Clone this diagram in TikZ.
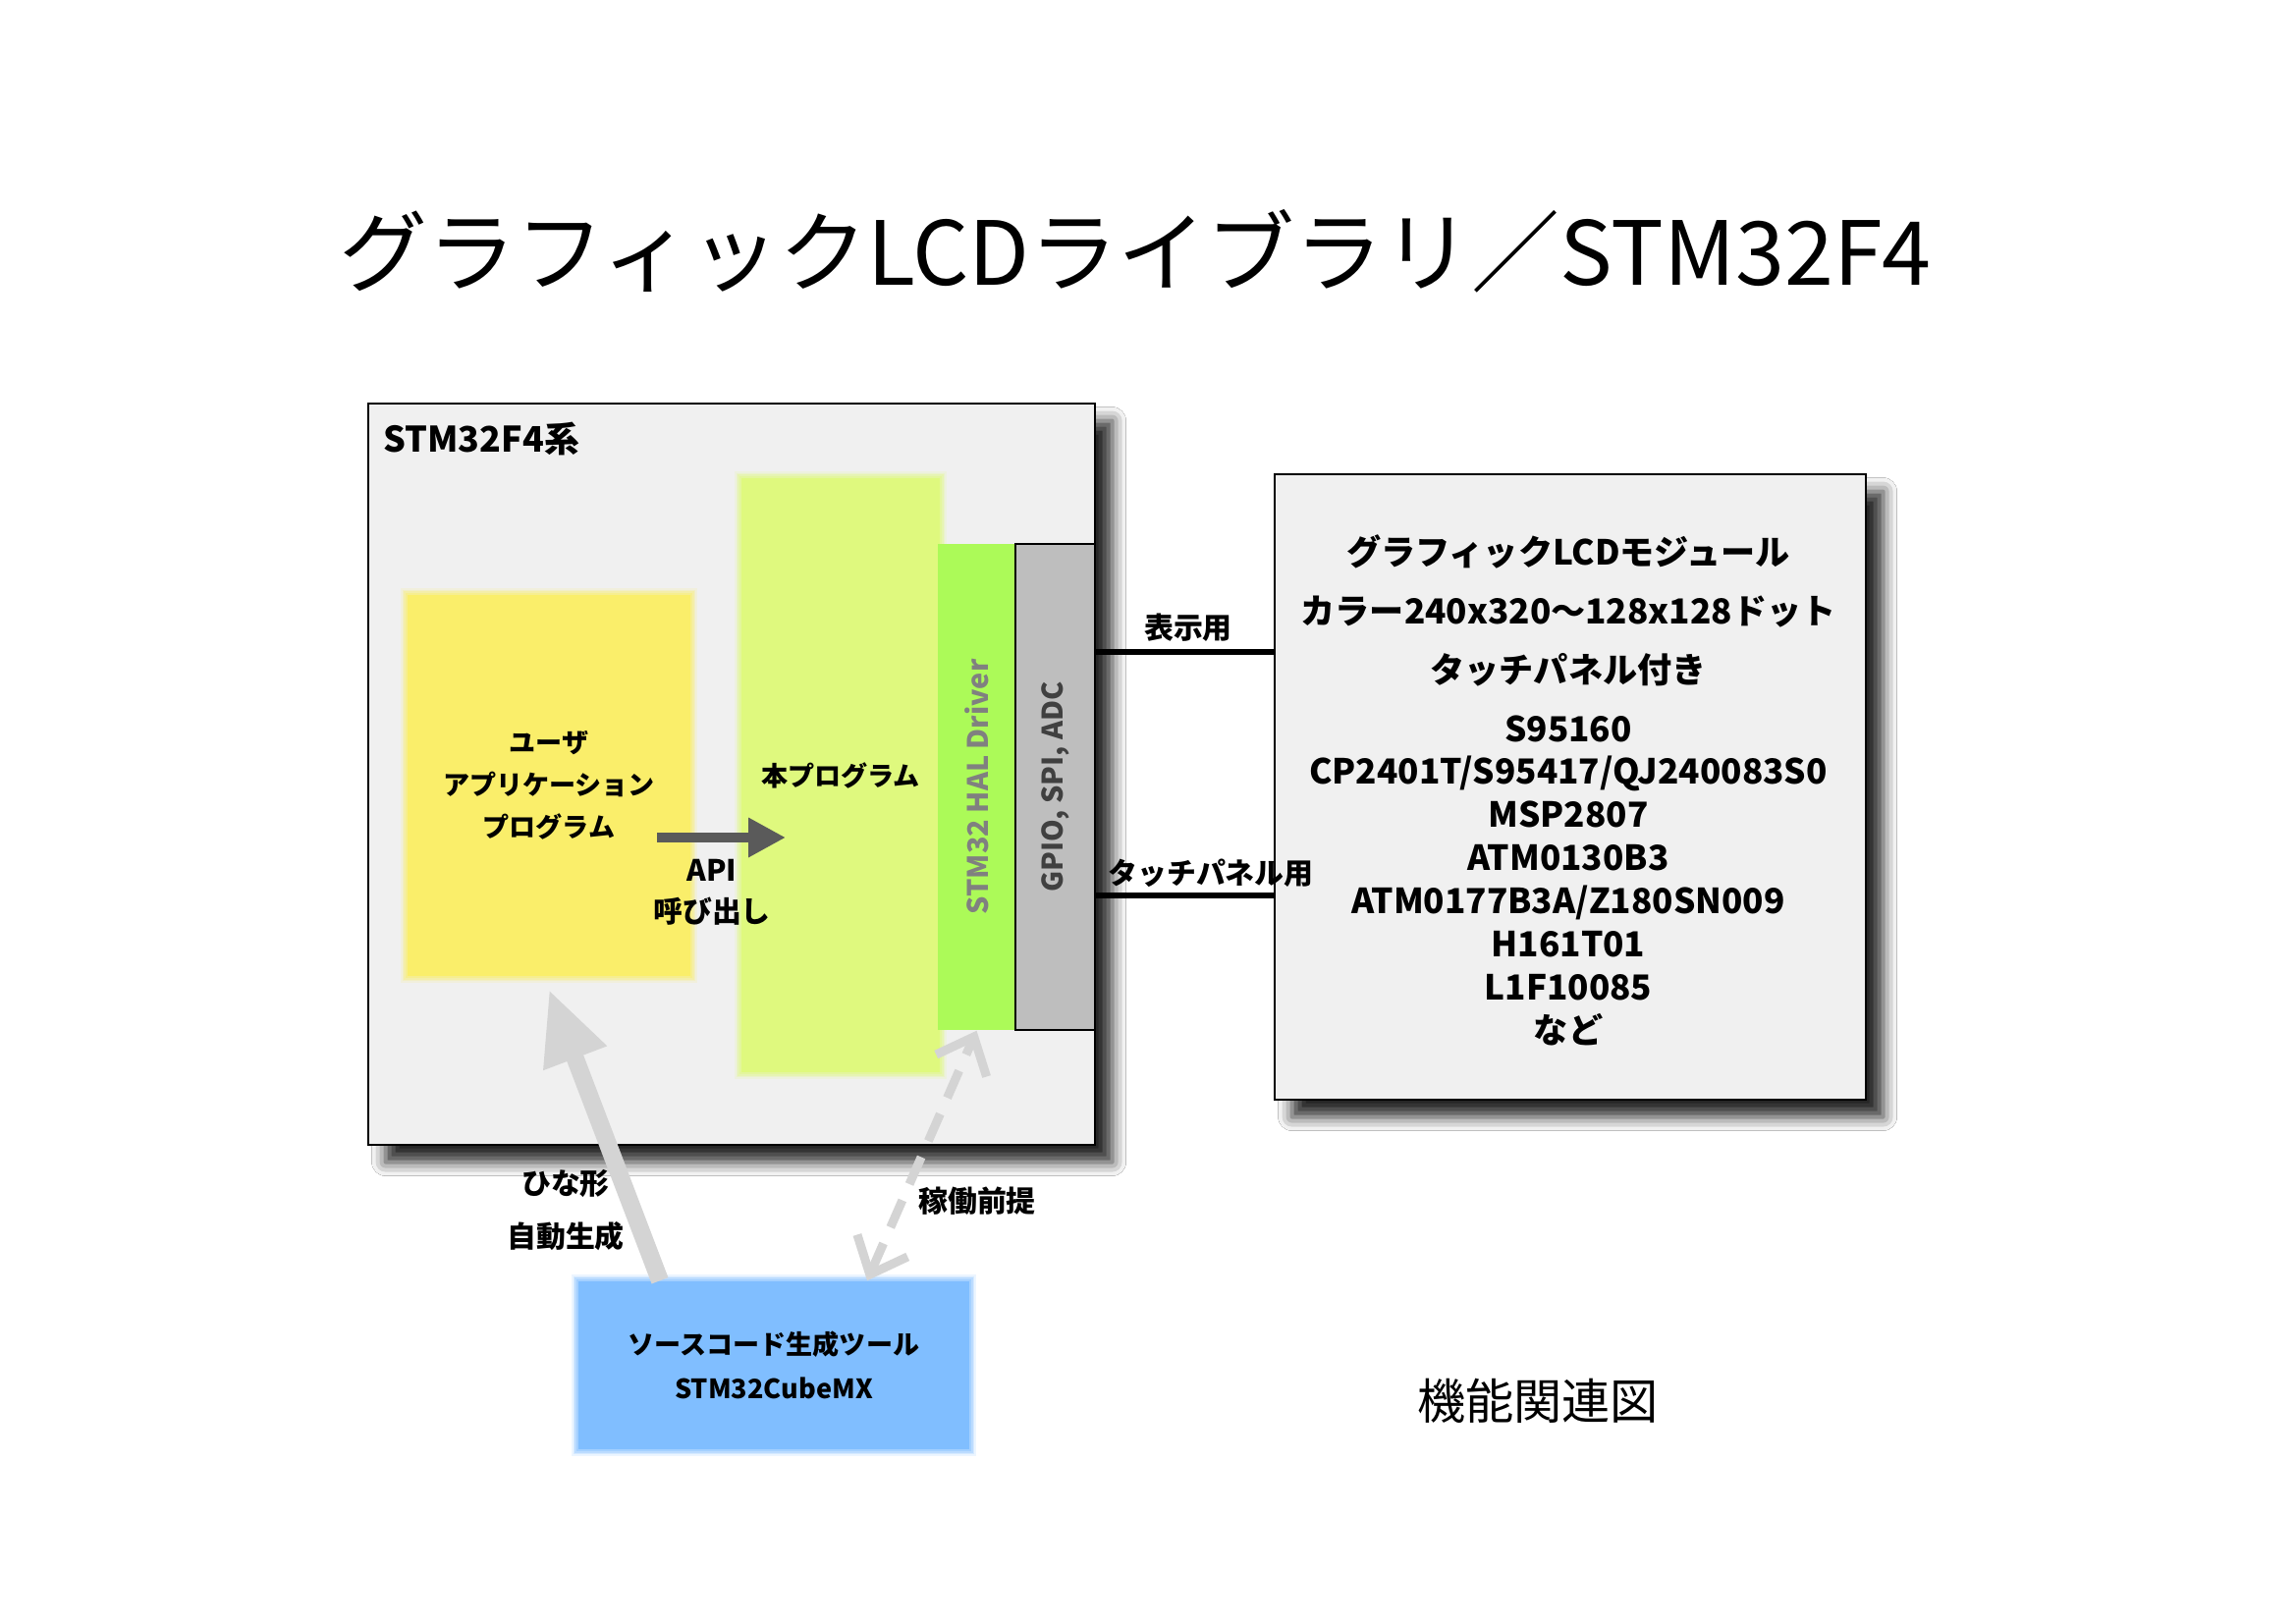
\documentclass[tikz,border=0pt]{standalone}
\usepackage{fontspec}
\setmainfont{Noto Sans CJK JP}
\definecolor{panelGray}{RGB}{240, 240, 240}
\definecolor{appYellow}{RGB}{250, 238, 106}
\definecolor{mainLime}{RGB}{223, 249, 126}
\definecolor{halGreen}{RGB}{172, 250, 88}
\definecolor{gpioGray}{RGB}{190, 190, 190}
\definecolor{toolBlue}{RGB}{128, 190, 255}
\definecolor{arrowGray}{RGB}{212, 212, 212}
\definecolor{apiGray}{RGB}{90, 90, 90}
\usetikzlibrary{positioning, calc, arrows.meta, shadows.blur}

\begin{document}
\begin{tikzpicture}[
    panel/.style={rectangle, draw=black, semithick, fill=panelGray,
                  blur shadow={shadow xshift=5pt, shadow yshift=-5pt,
                               shadow blur radius=4pt, shadow opacity=85}},
    block/.style={rectangle, inner sep=0pt, align=center, fill=#1,
                  preaction={draw=#1, draw opacity=0.15, line width=4pt},
                  preaction={draw=#1, draw opacity=0.2, line width=3pt},
                  preaction={draw=#1, draw opacity=0.3, line width=2pt},
                  preaction={draw=#1, draw opacity=0.4, line width=1pt},
                  font=\fontsize{7.7}{12.2}\selectfont\bfseries},
    vlabel/.style={rotate=90, font=\fontsize{8.2}{10}\selectfont\bfseries},
    mylabel/.style={align=center, font=\fontsize{8.5}{12}\selectfont\bfseries},
    bus/.style={line width=0.6mm},
    gen/.style={-{Triangle[length=7.5mm, width=6.4mm]}, line width=1.8mm, arrowGray},
    dep/.style={{Straight Barb[length=3.2mm, width=5.6mm]}-{Straight Barb[length=3.2mm, width=5.6mm]},
                line width=0.9mm, arrowGray, dash pattern=on 3mm off 1.8mm},
    api/.style={-{Triangle[length=3.8mm, width=3.8mm]}, line width=1mm, apiGray},
  ]
    \path[fill=white, use as bounding box] (0,0) rectangle (23.38,16.53);

    % Title
    \node[font=\fontsize{25.6}{30}\selectfont] (TITLE) at (11.56,13.97)
         {グラフィックLCDライブラリ／STM32F4};

    % STM32F4 board
    \node[panel, minimum width=7.4cm, minimum height=7.55cm] (SOC) at (7.45,8.645) {};
    \node[anchor=west, font=\fontsize{10.2}{12}\selectfont\bfseries] (SOC_T) at (3.78,12.06) {STM32F4系};
    \node[block=appYellow, minimum width=2.88cm, minimum height=3.88cm] (USER) at (5.59,8.53)
         {ユーザ\\アプリケーション\\プログラム};
    \node[block=mainLime, minimum width=2.02cm, minimum height=6.05cm] (MAIN) at (8.56,8.635) {本プログラム};
    \node[rectangle, fill=halGreen, minimum width=0.79cm, minimum height=4.95cm] (HAL) at (9.945,8.515) {};
    \node[rectangle, draw=black, semithick, fill=gpioGray, minimum width=0.81cm,
          minimum height=4.95cm] (GPIO) at (10.745,8.515) {};
    \node[vlabel, text=gray] (HAL_T) at (HAL.center) {STM32 HAL Driver};
    \node[vlabel, text=darkgray] (GPIO_T) at (GPIO.center) {GPIO, SPI, ADC};

    % API call
    \coordinate (API_S) at (6.69,8.00);
    \coordinate (API_E) at (8.00,8.00);
    \draw[api] (API_S) -- (API_E);
    \node[mylabel] (API_T) at (7.25,7.44) {API\\呼び出し};

    % LCD module
    \node[panel, minimum width=6.02cm, minimum height=6.37cm] (LCD) at (15.99,8.515) {};
    \node[align=center, font=\fontsize{10}{12.5}\selectfont\bfseries] (LCD_T) at (15.97,8.48)
         {グラフィックLCDモジュール\\[4.5pt]カラー240x320〜128x128ドット\\[4.5pt]タッチパネル付き\\[4.5pt]S95160\\
          CP2401T/S95417/QJ240083S0\\MSP2807\\ATM0130B3\\ATM0177B3A/Z180SN009\\H161T01\\L1F10085\\など};

    % Buses
    \coordinate (DISP) at ([yshift=1.375cm]GPIO.east);
    \coordinate (TOUCH) at ([yshift=-1.105cm]GPIO.east);
    \draw[bus] (DISP) -- (DISP -| LCD.west);
    \draw[bus] (TOUCH) -- (TOUCH -| LCD.west);
    \node[mylabel] (DISP_T) at (12.10,10.14) {表示用};
    \node[mylabel] (TOUCH_T) at (12.33,7.64) {タッチパネル用};

    % Code generator
    \node[block=toolBlue, minimum width=3.98cm, minimum height=1.71cm,
          font=\fontsize{7.7}{13}\selectfont\bfseries] (TOOL) at (7.88,2.625)
         {ソースコード生成ツール\\STM32CubeMX};
    \draw[gen] ([xshift=-1.16cm]TOOL.north) -- ([yshift=-0.13cm]USER.south);
    \node[mylabel, font=\fontsize{8.5}{15.6}\selectfont\bfseries] (GEN_T) at (5.76,4.205) {ひな形\\自動生成};
    \draw[dep] ([xshift=0.95cm]TOOL.north) -- (HAL.south);
    \node[mylabel] (DEP_T) at (9.95,4.30) {稼働前提};

    % Caption
    \node[font=\fontsize{14}{16}\selectfont] (CAPTION) at (15.66,2.26) {機能関連図};
\end{tikzpicture}
\end{document}
